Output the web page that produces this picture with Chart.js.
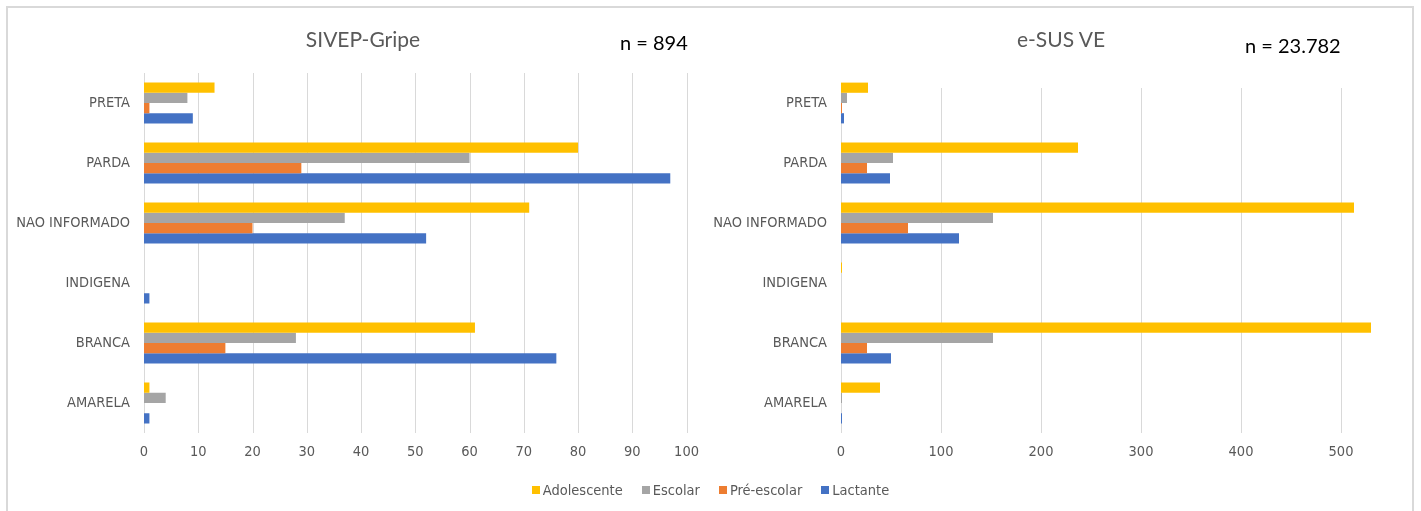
<!DOCTYPE html>
<html>
<head>
<meta charset="utf-8">
<script src="https://cdn.jsdelivr.net/npm/chart.js@4/dist/chart.umd.min.js"></script>
<style>
  html, body { margin: 0; padding: 0; background: #fff; }
  body { width: 1421px; height: 511px; position: relative; overflow: hidden; font-family: Lato, "Open Sans", sans-serif; }
  #frame { position: absolute; left: 6px; top: 6px; width: 1408px; height: 530px; border: 2px solid #d9d9d9; box-sizing: border-box; }
  .box { position: absolute; top: 0; height: 511px; }
  .title { position: absolute; color: #595959; font-size: 21px; white-space: nowrap; transform: translate(-50%, -50%); }
  .count { position: absolute; color: #000; font-size: 20px; white-space: nowrap; transform: translateY(-50%); }
  #legend { position: absolute; left: 0; width: 1421px; top: 482px; display: flex; justify-content: center; gap: 19px; color: #595959; font-size: 14.5px; font-family: "DejaVu Sans Condensed", "DejaVu Sans", sans-serif; font-stretch: condensed; }
  #legend span.item { display: flex; align-items: center; }
  #legend i { display: inline-block; width: 8px; height: 8px; margin-right: 3px; }
</style>
</head>
<body>
<div id="frame"></div>
<div class="box" style="left:0;width:710px"><canvas id="sivep"></canvas></div>
<div class="box" style="left:710px;width:711px"><canvas id="esus"></canvas></div>
<div class="title" style="left:363px;top:38px">SIVEP-Gripe</div>
<div class="title" style="left:1061px;top:38px">e-SUS VE</div>
<div class="count" style="left:620px;top:42px">n = 894</div>
<div class="count" style="left:1245px;top:45px">n = 23.782</div>
<div id="legend"></div>
<script>
// Race/colour categories (top to bottom) and age groups
const categories = ['PRETA', 'PARDA', 'NAO INFORMADO', 'INDIGENA', 'BRANCA', 'AMARELA'];
const seriesNames = ['Adolescente', 'Escolar', 'Pré-escolar', 'Lactante'];
const seriesColors = ['#FFC000', '#A5A5A5', '#ED7D31', '#4472C4'];

// SIVEP-Gripe counts
const sivepAdolescente = [13, 80, 71, 0, 61, 1];
const sivepEscolar     = [8, 60, 37, 0, 28, 4];
const sivepPreEscolar  = [1, 29, 20, 0, 15, 0];
const sivepLactante    = [9, 97, 52, 1, 76, 1];

// e-SUS VE counts
const esusAdolescente = [27, 237, 513, 1, 530, 39];
const esusEscolar     = [6, 52, 152, 0, 152, 1];
const esusPreEscolar  = [1, 26, 67, 0, 26, 0];
const esusLactante    = [3, 49, 118, 0, 50, 1];

// Value axis ticks
const sivepTicks = [0, 10, 20, 30, 40, 50, 60, 70, 80, 90, 100];
const esusTicks = [0, 100, 200, 300, 400, 500];

const AXIS_FONT = '"DejaVu Sans Condensed", "DejaVu Sans", sans-serif';
const GRAY = '#595959';

// Vertical gridlines drawn from the x scale, starting a given offset below the chart top
const gridPlugin = {
  id: 'vgrid',
  beforeDatasetsDraw(chart, args, opts) {
    const { ctx, chartArea } = chart;
    const x = chart.scales.x;
    ctx.save();
    ctx.strokeStyle = '#d9d9d9';
    ctx.lineWidth = 1;
    x.ticks.forEach(t => {
      const px = Math.round(x.getPixelForValue(t.value)) + 0.5;
      ctx.beginPath();
      ctx.moveTo(px, chartArea.top + (opts.topOffset || 0));
      ctx.lineTo(px, chartArea.bottom);
      ctx.stroke();
    });
    ctx.restore();
  }
};

function makeChart(id, series, ticks, max, padLeft, padRight, topOffset) {
  return new Chart(document.getElementById(id), {
    type: 'bar',
    data: {
      labels: categories,
      datasets: series.map((vals, i) => ({
        label: seriesNames[i],
        data: vals,
        backgroundColor: seriesColors[i],
        borderWidth: 0,
        categoryPercentage: 0.68,
        barPercentage: 1.0
      }))
    },
    options: {
      indexAxis: 'y',
      responsive: true,
      maintainAspectRatio: false,
      animation: false,
      layout: { padding: { left: 0, right: padRight, top: 73, bottom: 0 } },
      plugins: { legend: { display: false }, tooltip: { enabled: false }, vgrid: { topOffset } },
      scales: {
        x: {
          min: 0,
          max: max,
          afterBuildTicks(axis) { axis.ticks = ticks.map(v => ({ value: v })); },
          afterFit(axis) { axis.height = 78; },
          grid: { display: false, drawTicks: false },
          border: { display: false },
          ticks: { color: GRAY, font: { family: AXIS_FONT, size: 14.5 }, padding: 11 }
        },
        y: {
          afterFit(axis) { axis.width = padLeft; },
          grid: { display: false, drawTicks: false },
          border: { display: false },
          ticks: { color: GRAY, font: { family: AXIS_FONT, size: 14.5 }, padding: 14 }
        }
      }
    },
    plugins: [gridPlugin]
  });
}

makeChart('sivep', [sivepAdolescente, sivepEscolar, sivepPreEscolar, sivepLactante], sivepTicks, 100, 144, 21, 0);
makeChart('esus', [esusAdolescente, esusEscolar, esusPreEscolar, esusLactante], esusTicks, 540, 131, 40, 15);

// Shared legend
const legend = document.getElementById('legend');
seriesNames.forEach((name, i) => {
  const item = document.createElement('span');
  item.className = 'item';
  const sw = document.createElement('i');
  sw.style.background = seriesColors[i];
  item.appendChild(sw);
  item.appendChild(document.createTextNode(name));
  legend.appendChild(item);
});
</script>
</body>
</html>
